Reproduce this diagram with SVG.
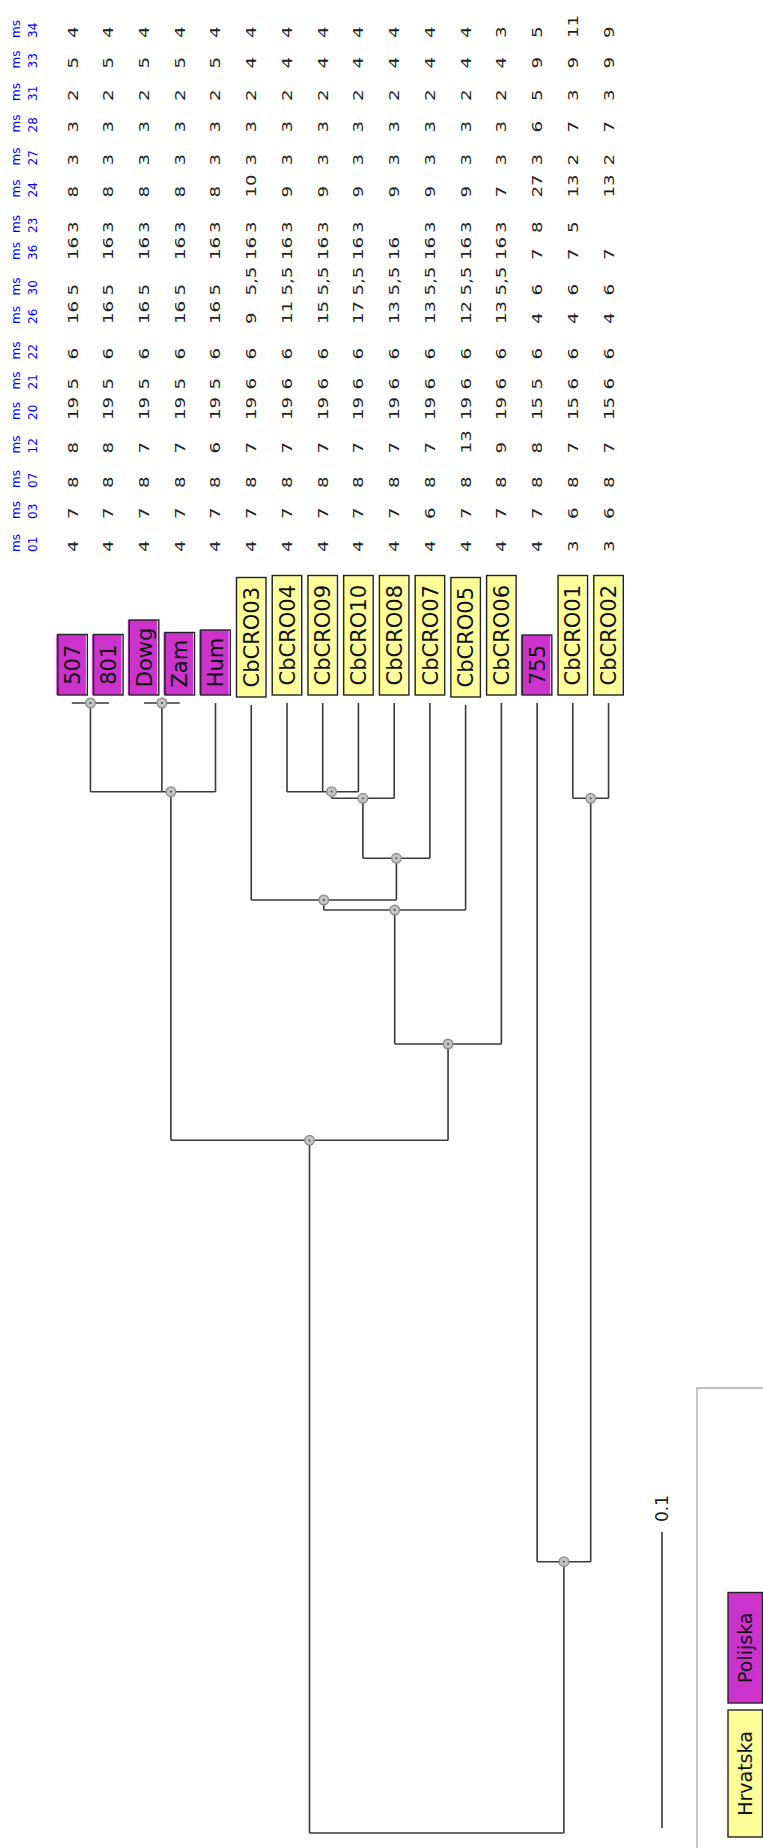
<svg xmlns="http://www.w3.org/2000/svg" width="763" height="1848" viewBox="0 0 763 1848">
<style>
.ln{fill:none;stroke:#3a3a3a;stroke-width:1.6}
.nd{fill:#c4c4c4;stroke:#8c8c8c;stroke-width:1.4}
.dot{fill:#333}
.pl{fill:#cc33cc}
.hr{fill:#ffff99}
.bx{fill:none;stroke:#222;stroke-width:1.4}
.lab{font-family:"DejaVu Sans",sans-serif;font-size:21px;fill:#111}
.leg{font-family:"DejaVu Sans",sans-serif;font-size:19px;fill:#111}
.val{font-family:"DejaVu Sans",sans-serif;font-size:14px;fill:#222}
.hd{font-family:"DejaVu Sans",sans-serif;font-size:12px;fill:#0000ff}
</style>
<rect x="0" y="0" width="763" height="1848" fill="#ffffff"/>

<g id="table-header" transform="rotate(-90)">
<text class="hd" y="19.5"><tspan x="-552">ms</tspan><tspan x="-519">ms</tspan><tspan x="-488">ms</tspan><tspan x="-453.5">ms</tspan><tspan x="-420">ms</tspan><tspan x="-389.5">ms</tspan><tspan x="-359.5">ms</tspan><tspan x="-324">ms</tspan><tspan x="-295.5">ms</tspan><tspan x="-260">ms</tspan><tspan x="-233">ms</tspan><tspan x="-197.5">ms</tspan><tspan x="-165.5">ms</tspan><tspan x="-132.5">ms</tspan><tspan x="-101">ms</tspan><tspan x="-68.5">ms</tspan><tspan x="-38">ms</tspan></text>
<text class="hd" y="37"><tspan x="-552">01</tspan><tspan x="-519">03</tspan><tspan x="-488">07</tspan><tspan x="-453.5">12</tspan><tspan x="-420">20</tspan><tspan x="-389.5">21</tspan><tspan x="-359.5">22</tspan><tspan x="-324">26</tspan><tspan x="-295.5">30</tspan><tspan x="-260">36</tspan><tspan x="-233">23</tspan><tspan x="-197.5">24</tspan><tspan x="-165.5">27</tspan><tspan x="-132.5">28</tspan><tspan x="-101">31</tspan><tspan x="-68.5">33</tspan><tspan x="-38">34</tspan></text>
</g>

<g id="table-values" transform="rotate(-90) scale(1.3,1)">
<text class="val" y="77.6"><tspan x="-424.6">4</tspan><tspan x="-399.2">7</tspan><tspan x="-375.4">8</tspan><tspan x="-348.8">8</tspan><tspan x="-323.1">19</tspan><tspan x="-299.6">5</tspan><tspan x="-276.5">6</tspan><tspan x="-249.2">16</tspan><tspan x="-227.3">5</tspan><tspan x="-200">16</tspan><tspan x="-179.2">3</tspan><tspan x="-151.9">8</tspan><tspan x="-127.3">3</tspan><tspan x="-101.9">3</tspan><tspan x="-77.7">2</tspan><tspan x="-52.7">5</tspan><tspan x="-29.2">4</tspan></text>
<text class="val" y="113.3"><tspan x="-424.6">4</tspan><tspan x="-399.2">7</tspan><tspan x="-375.4">8</tspan><tspan x="-348.8">8</tspan><tspan x="-323.1">19</tspan><tspan x="-299.6">5</tspan><tspan x="-276.5">6</tspan><tspan x="-249.2">16</tspan><tspan x="-227.3">5</tspan><tspan x="-200">16</tspan><tspan x="-179.2">3</tspan><tspan x="-151.9">8</tspan><tspan x="-127.3">3</tspan><tspan x="-101.9">3</tspan><tspan x="-77.7">2</tspan><tspan x="-52.7">5</tspan><tspan x="-29.2">4</tspan></text>
<text class="val" y="149.1"><tspan x="-424.6">4</tspan><tspan x="-399.2">7</tspan><tspan x="-375.4">8</tspan><tspan x="-348.8">7</tspan><tspan x="-323.1">19</tspan><tspan x="-299.6">5</tspan><tspan x="-276.5">6</tspan><tspan x="-249.2">16</tspan><tspan x="-227.3">5</tspan><tspan x="-200">16</tspan><tspan x="-179.2">3</tspan><tspan x="-151.9">8</tspan><tspan x="-127.3">3</tspan><tspan x="-101.9">3</tspan><tspan x="-77.7">2</tspan><tspan x="-52.7">5</tspan><tspan x="-29.2">4</tspan></text>
<text class="val" y="184.8"><tspan x="-424.6">4</tspan><tspan x="-399.2">7</tspan><tspan x="-375.4">8</tspan><tspan x="-348.8">7</tspan><tspan x="-323.1">19</tspan><tspan x="-299.6">5</tspan><tspan x="-276.5">6</tspan><tspan x="-249.2">16</tspan><tspan x="-227.3">5</tspan><tspan x="-200">16</tspan><tspan x="-179.2">3</tspan><tspan x="-151.9">8</tspan><tspan x="-127.3">3</tspan><tspan x="-101.9">3</tspan><tspan x="-77.7">2</tspan><tspan x="-52.7">5</tspan><tspan x="-29.2">4</tspan></text>
<text class="val" y="220.5"><tspan x="-424.6">4</tspan><tspan x="-399.2">7</tspan><tspan x="-375.4">8</tspan><tspan x="-348.8">6</tspan><tspan x="-323.1">19</tspan><tspan x="-299.6">5</tspan><tspan x="-276.5">6</tspan><tspan x="-249.2">16</tspan><tspan x="-227.3">5</tspan><tspan x="-200">16</tspan><tspan x="-179.2">3</tspan><tspan x="-151.9">8</tspan><tspan x="-127.3">3</tspan><tspan x="-101.9">3</tspan><tspan x="-77.7">2</tspan><tspan x="-52.7">5</tspan><tspan x="-29.2">4</tspan></text>
<text class="val" y="256.3"><tspan x="-424.6">4</tspan><tspan x="-399.2">7</tspan><tspan x="-375.4">8</tspan><tspan x="-348.8">7</tspan><tspan x="-323.1">19</tspan><tspan x="-299.6">6</tspan><tspan x="-276.5">6</tspan><tspan x="-249.2">9</tspan><tspan x="-227.3">5,5</tspan><tspan x="-200">16</tspan><tspan x="-179.2">3</tspan><tspan x="-151.9">10</tspan><tspan x="-127.3">3</tspan><tspan x="-101.9">3</tspan><tspan x="-77.7">2</tspan><tspan x="-52.7">4</tspan><tspan x="-29.2">4</tspan></text>
<text class="val" y="292"><tspan x="-424.6">4</tspan><tspan x="-399.2">7</tspan><tspan x="-375.4">8</tspan><tspan x="-348.8">7</tspan><tspan x="-323.1">19</tspan><tspan x="-299.6">6</tspan><tspan x="-276.5">6</tspan><tspan x="-249.2">11</tspan><tspan x="-227.3">5,5</tspan><tspan x="-200">16</tspan><tspan x="-179.2">3</tspan><tspan x="-151.9">9</tspan><tspan x="-127.3">3</tspan><tspan x="-101.9">3</tspan><tspan x="-77.7">2</tspan><tspan x="-52.7">4</tspan><tspan x="-29.2">4</tspan></text>
<text class="val" y="327.7"><tspan x="-424.6">4</tspan><tspan x="-399.2">7</tspan><tspan x="-375.4">8</tspan><tspan x="-348.8">7</tspan><tspan x="-323.1">19</tspan><tspan x="-299.6">6</tspan><tspan x="-276.5">6</tspan><tspan x="-249.2">15</tspan><tspan x="-227.3">5,5</tspan><tspan x="-200">16</tspan><tspan x="-179.2">3</tspan><tspan x="-151.9">9</tspan><tspan x="-127.3">3</tspan><tspan x="-101.9">3</tspan><tspan x="-77.7">2</tspan><tspan x="-52.7">4</tspan><tspan x="-29.2">4</tspan></text>
<text class="val" y="363.4"><tspan x="-424.6">4</tspan><tspan x="-399.2">7</tspan><tspan x="-375.4">8</tspan><tspan x="-348.8">7</tspan><tspan x="-323.1">19</tspan><tspan x="-299.6">6</tspan><tspan x="-276.5">6</tspan><tspan x="-249.2">17</tspan><tspan x="-227.3">5,5</tspan><tspan x="-200">16</tspan><tspan x="-179.2">3</tspan><tspan x="-151.9">9</tspan><tspan x="-127.3">3</tspan><tspan x="-101.9">3</tspan><tspan x="-77.7">2</tspan><tspan x="-52.7">4</tspan><tspan x="-29.2">4</tspan></text>
<text class="val" y="399.2"><tspan x="-424.6">4</tspan><tspan x="-399.2">7</tspan><tspan x="-375.4">8</tspan><tspan x="-348.8">7</tspan><tspan x="-323.1">19</tspan><tspan x="-299.6">6</tspan><tspan x="-276.5">6</tspan><tspan x="-249.2">13</tspan><tspan x="-227.3">5,5</tspan><tspan x="-200">16</tspan><tspan x="-151.9">9</tspan><tspan x="-127.3">3</tspan><tspan x="-101.9">3</tspan><tspan x="-77.7">2</tspan><tspan x="-52.7">4</tspan><tspan x="-29.2">4</tspan></text>
<text class="val" y="434.9"><tspan x="-424.6">4</tspan><tspan x="-399.2">6</tspan><tspan x="-375.4">8</tspan><tspan x="-348.8">7</tspan><tspan x="-323.1">19</tspan><tspan x="-299.6">6</tspan><tspan x="-276.5">6</tspan><tspan x="-249.2">13</tspan><tspan x="-227.3">5,5</tspan><tspan x="-200">16</tspan><tspan x="-179.2">3</tspan><tspan x="-151.9">9</tspan><tspan x="-127.3">3</tspan><tspan x="-101.9">3</tspan><tspan x="-77.7">2</tspan><tspan x="-52.7">4</tspan><tspan x="-29.2">4</tspan></text>
<text class="val" y="470.6"><tspan x="-424.6">4</tspan><tspan x="-399.2">7</tspan><tspan x="-375.4">8</tspan><tspan x="-348.8">13</tspan><tspan x="-323.1">19</tspan><tspan x="-299.6">6</tspan><tspan x="-276.5">6</tspan><tspan x="-249.2">12</tspan><tspan x="-227.3">5,5</tspan><tspan x="-200">16</tspan><tspan x="-179.2">3</tspan><tspan x="-151.9">9</tspan><tspan x="-127.3">3</tspan><tspan x="-101.9">3</tspan><tspan x="-77.7">2</tspan><tspan x="-52.7">4</tspan><tspan x="-29.2">4</tspan></text>
<text class="val" y="506.4"><tspan x="-424.6">4</tspan><tspan x="-399.2">7</tspan><tspan x="-375.4">8</tspan><tspan x="-348.8">9</tspan><tspan x="-323.1">19</tspan><tspan x="-299.6">6</tspan><tspan x="-276.5">6</tspan><tspan x="-249.2">13</tspan><tspan x="-227.3">5,5</tspan><tspan x="-200">16</tspan><tspan x="-179.2">3</tspan><tspan x="-151.9">7</tspan><tspan x="-127.3">3</tspan><tspan x="-101.9">3</tspan><tspan x="-77.7">2</tspan><tspan x="-52.7">4</tspan><tspan x="-29.2">3</tspan></text>
<text class="val" y="542.1"><tspan x="-424.6">4</tspan><tspan x="-399.2">7</tspan><tspan x="-375.4">8</tspan><tspan x="-348.8">8</tspan><tspan x="-323.1">15</tspan><tspan x="-299.6">5</tspan><tspan x="-276.5">6</tspan><tspan x="-249.2">4</tspan><tspan x="-227.3">6</tspan><tspan x="-200">7</tspan><tspan x="-179.2">8</tspan><tspan x="-151.9">27</tspan><tspan x="-127.3">3</tspan><tspan x="-101.9">6</tspan><tspan x="-77.7">5</tspan><tspan x="-52.7">9</tspan><tspan x="-29.2">5</tspan></text>
<text class="val" y="577.8"><tspan x="-424.6">3</tspan><tspan x="-399.2">6</tspan><tspan x="-375.4">8</tspan><tspan x="-348.8">7</tspan><tspan x="-323.1">15</tspan><tspan x="-299.6">6</tspan><tspan x="-276.5">6</tspan><tspan x="-249.2">4</tspan><tspan x="-227.3">6</tspan><tspan x="-200">7</tspan><tspan x="-179.2">5</tspan><tspan x="-151.9">13</tspan><tspan x="-127.3">2</tspan><tspan x="-101.9">7</tspan><tspan x="-77.7">3</tspan><tspan x="-52.7">9</tspan><tspan x="-29.2">11</tspan></text>
<text class="val" y="613.6"><tspan x="-424.6">3</tspan><tspan x="-399.2">6</tspan><tspan x="-375.4">8</tspan><tspan x="-348.8">7</tspan><tspan x="-323.1">15</tspan><tspan x="-299.6">6</tspan><tspan x="-276.5">6</tspan><tspan x="-249.2">4</tspan><tspan x="-227.3">6</tspan><tspan x="-200">7</tspan><tspan x="-151.9">13</tspan><tspan x="-127.3">2</tspan><tspan x="-101.9">7</tspan><tspan x="-77.7">3</tspan><tspan x="-52.7">9</tspan><tspan x="-29.2">9</tspan></text>
</g>

<g id="connectors">
<path class="ln" d="M71.8,703 H109 M90.45,703 V791.7 M144.06,703 H179.79 M161.9,703 V791.7 M215.5,703 V791.7 M90.45,791.7 H215.5 M170.9,791.7 V1140.3"/>
<path class="ln" d="M287,703 V791.7 M322.7,703 V791.7 M358.4,703 V791.7 M287,791.7 H358.4 M331.6,791.7 V798.3 M394.2,703 V798.3 M331.6,798.3 H394.2 M362.9,798.3 V858.3 M429.9,703 V858.3 M362.9,858.3 H429.9 M396.4,858.3 V900"/>
<path class="ln" d="M251.25,705 V900 M251.25,900 H396.4 M323.8,900 V910 M465.6,705 V910 M323.8,910 H465.6 M394.7,910 V1044 M501.4,703 V1044 M394.7,1044 H501.4 M448.05,1044 V1140.3 M170.9,1140.3 H448.05 M309.5,1140.3 V1833"/>
<path class="ln" d="M537.1,703 V1561.7 M572.8,703 V798.3 M608.55,703 V798.3 M572.8,798.3 H608.55 M590.7,798.3 V1561.7 M537.1,1561.7 H590.7 M563.9,1561.7 V1833 M309.5,1833 H563.9"/>
</g>

<g id="internal-nodes">
<g id="node-507-801"><circle class="nd" cx="90.45" cy="703" r="4.8"/><circle class="dot" cx="90.45" cy="703" r="0.9"/></g>
<g id="node-dowg-zam"><circle class="nd" cx="161.9" cy="703" r="4.8"/><circle class="dot" cx="161.9" cy="703" r="0.9"/></g>
<g id="node-a"><circle class="nd" cx="170.9" cy="791.7" r="4.8"/><circle class="dot" cx="170.9" cy="791.7" r="0.9"/></g>
<g id="node-b1"><circle class="nd" cx="331.6" cy="791.7" r="4.8"/><circle class="dot" cx="331.6" cy="791.7" r="0.9"/></g>
<g id="node-b2"><circle class="nd" cx="362.9" cy="798.3" r="4.8"/><circle class="dot" cx="362.9" cy="798.3" r="0.9"/></g>
<g id="node-b3"><circle class="nd" cx="396.4" cy="858.3" r="4.8"/><circle class="dot" cx="396.4" cy="858.3" r="0.9"/></g>
<g id="node-c1"><circle class="nd" cx="323.8" cy="900" r="4.8"/><circle class="dot" cx="323.8" cy="900" r="0.9"/></g>
<g id="node-c2"><circle class="nd" cx="394.7" cy="910" r="4.8"/><circle class="dot" cx="394.7" cy="910" r="0.9"/></g>
<g id="node-d"><circle class="nd" cx="448.05" cy="1044" r="4.8"/><circle class="dot" cx="448.05" cy="1044" r="0.9"/></g>
<g id="node-e"><circle class="nd" cx="309.5" cy="1140.3" r="4.8"/><circle class="dot" cx="309.5" cy="1140.3" r="0.9"/></g>
<g id="node-f"><circle class="nd" cx="590.7" cy="798.3" r="4.8"/><circle class="dot" cx="590.7" cy="798.3" r="0.9"/></g>
<g id="node-g"><circle class="nd" cx="563.9" cy="1561.7" r="4.8"/><circle class="dot" cx="563.9" cy="1561.7" r="0.9"/></g>
</g>

<g id="leaf-507"><rect class="pl" x="56.35" y="634.5" width="29.5" height="60.5"/><rect class="bx" x="57.85" y="634.5" width="29.5" height="60.5"/><text class="lab" transform="rotate(-90)" x="-664.75" y="80.2" text-anchor="middle">507</text></g>
<g id="leaf-801"><rect class="pl" x="92.08" y="634.5" width="29.5" height="60.5"/><rect class="bx" x="93.58" y="634.5" width="29.5" height="60.5"/><text class="lab" transform="rotate(-90)" x="-664.75" y="115.9" text-anchor="middle">801</text></g>
<g id="leaf-dowg"><rect class="pl" x="127.81" y="620" width="29.5" height="75"/><rect class="bx" x="129.31" y="620" width="29.5" height="75"/><text class="lab" transform="rotate(-90)" x="-657.5" y="151.7" text-anchor="middle">Dowg</text></g>
<g id="leaf-zam"><rect class="pl" x="163.54" y="632.5" width="29.5" height="62.5"/><rect class="bx" x="165.04" y="632.5" width="29.5" height="62.5"/><text class="lab" transform="rotate(-90)" x="-663.75" y="187.4" text-anchor="middle">Zam</text></g>
<g id="leaf-hum"><rect class="pl" x="199.27" y="630" width="29.5" height="65"/><rect class="bx" x="200.77" y="630" width="29.5" height="65"/><text class="lab" transform="rotate(-90)" x="-662.5" y="223.1" text-anchor="middle">Hum</text></g>
<g id="leaf-cbcro03"><rect class="hr" x="235" y="577.5" width="29.5" height="119.5"/><rect class="bx" x="236.5" y="577.5" width="29.5" height="119.5"/><text class="lab" transform="rotate(-90)" x="-637.25" y="258.9" text-anchor="middle">CbCRO03</text></g>
<g id="leaf-cbcro04"><rect class="hr" x="270.73" y="575.5" width="29.5" height="119.5"/><rect class="bx" x="272.23" y="575.5" width="29.5" height="119.5"/><text class="lab" transform="rotate(-90)" x="-635.25" y="294.6" text-anchor="middle">CbCRO04</text></g>
<g id="leaf-cbcro09"><rect class="hr" x="306.46" y="575.5" width="29.5" height="119.5"/><rect class="bx" x="307.96" y="575.5" width="29.5" height="119.5"/><text class="lab" transform="rotate(-90)" x="-635.25" y="330.3" text-anchor="middle">CbCRO09</text></g>
<g id="leaf-cbcro10"><rect class="hr" x="342.19" y="575.5" width="29.5" height="119.5"/><rect class="bx" x="343.69" y="575.5" width="29.5" height="119.5"/><text class="lab" transform="rotate(-90)" x="-635.25" y="366" text-anchor="middle">CbCRO10</text></g>
<g id="leaf-cbcro08"><rect class="hr" x="377.92" y="575.5" width="29.5" height="119.5"/><rect class="bx" x="379.42" y="575.5" width="29.5" height="119.5"/><text class="lab" transform="rotate(-90)" x="-635.25" y="401.8" text-anchor="middle">CbCRO08</text></g>
<g id="leaf-cbcro07"><rect class="hr" x="413.65" y="575.5" width="29.5" height="119.5"/><rect class="bx" x="415.15" y="575.5" width="29.5" height="119.5"/><text class="lab" transform="rotate(-90)" x="-635.25" y="437.5" text-anchor="middle">CbCRO07</text></g>
<g id="leaf-cbcro05"><rect class="hr" x="449.38" y="577.5" width="29.5" height="119.5"/><rect class="bx" x="450.88" y="577.5" width="29.5" height="119.5"/><text class="lab" transform="rotate(-90)" x="-637.25" y="473.2" text-anchor="middle">CbCRO05</text></g>
<g id="leaf-cbcro06"><rect class="hr" x="485.11" y="575.5" width="29.5" height="119.5"/><rect class="bx" x="486.61" y="575.5" width="29.5" height="119.5"/><text class="lab" transform="rotate(-90)" x="-635.25" y="509" text-anchor="middle">CbCRO06</text></g>
<g id="leaf-755"><rect class="pl" x="520.84" y="635" width="29.5" height="60"/><rect class="bx" x="522.34" y="635" width="29.5" height="60"/><text class="lab" transform="rotate(-90)" x="-665" y="544.7" text-anchor="middle">755</text></g>
<g id="leaf-cbcro01"><rect class="hr" x="556.57" y="575.5" width="29.5" height="119.5"/><rect class="bx" x="558.07" y="575.5" width="29.5" height="119.5"/><text class="lab" transform="rotate(-90)" x="-635.25" y="580.4" text-anchor="middle">CbCRO01</text></g>
<g id="leaf-cbcro02"><rect class="hr" x="592.3" y="575.5" width="29.5" height="119.5"/><rect class="bx" x="593.8" y="575.5" width="29.5" height="119.5"/><text class="lab" transform="rotate(-90)" x="-635.25" y="616.2" text-anchor="middle">CbCRO02</text></g>

<g id="scale-bar">
<path class="ln" d="M662,1532 V1828"/>
<text transform="rotate(-90)" x="-1522" y="668" font-family="DejaVu Sans, sans-serif" font-size="17" fill="#222">0.1</text>
</g>

<g id="legend">
<path d="M697,1848 V1388 H763" fill="none" stroke="#aaaaaa" stroke-width="1.3"/>
<g id="legend-polijska"><rect class="pl" x="728" y="1592.5" width="34.5" height="110.5"/><rect class="bx" x="728" y="1592.5" width="34.5" height="110.5"/><text class="leg" transform="rotate(-90)" x="-1647.75" y="752.2" text-anchor="middle">Polijska</text></g>
<g id="legend-hrvatska"><rect class="hr" x="728" y="1710" width="34.5" height="127"/><rect class="bx" x="728" y="1710" width="34.5" height="127"/><text class="leg" transform="rotate(-90)" x="-1773.5" y="752.2" text-anchor="middle">Hrvatska</text></g>
</g>
</svg>
